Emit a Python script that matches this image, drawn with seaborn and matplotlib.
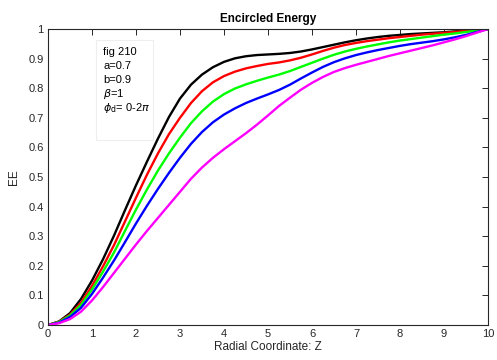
import numpy as np
import pandas as pd
import matplotlib
matplotlib.use("Agg")
import matplotlib.pyplot as plt
import seaborn as sns
from matplotlib.patches import Rectangle

z = [0, 0.25, 0.5, 0.75, 1, 1.25, 1.5, 1.75, 2, 2.25, 2.5, 2.75, 3, 3.25, 3.5, 3.75,
     4, 4.25, 4.5, 4.75, 5, 5.25, 5.5, 5.75, 6, 6.25, 6.5, 6.75, 7, 7.25, 7.5, 7.75,
     8, 8.25, 8.5, 8.75, 9, 9.25, 9.5, 9.75, 10]

ee_black = [0, 0.012, 0.04, 0.088, 0.15, 0.222, 0.302, 0.388, 0.472, 0.552, 0.63, 0.703,
            0.765, 0.812, 0.846, 0.871, 0.889, 0.901, 0.908, 0.912, 0.914, 0.916, 0.919,
            0.924, 0.931, 0.939, 0.947, 0.955, 0.962, 0.968, 0.973, 0.977, 0.98, 0.983,
            0.985, 0.987, 0.989, 0.992, 0.995, 0.997, 1.0]
ee_red = [0, 0.011, 0.035, 0.075, 0.132, 0.198, 0.27, 0.35, 0.43, 0.508, 0.58, 0.645,
          0.70, 0.75, 0.79, 0.82, 0.841, 0.856, 0.867, 0.875, 0.882, 0.887, 0.894, 0.903,
          0.914, 0.926, 0.937, 0.946, 0.953, 0.959, 0.964, 0.969, 0.973, 0.977, 0.981,
          0.984, 0.987, 0.99, 0.994, 0.997, 1.0]
ee_green = [0, 0.010, 0.032, 0.068, 0.12, 0.18, 0.245, 0.318, 0.39, 0.458, 0.522, 0.58,
            0.633, 0.682, 0.722, 0.755, 0.78, 0.799, 0.813, 0.825, 0.836, 0.846, 0.858,
            0.872, 0.886, 0.9, 0.913, 0.924, 0.933, 0.941, 0.948, 0.955, 0.961, 0.966,
            0.971, 0.976, 0.981, 0.985, 0.99, 0.995, 1.0]
ee_blue = [0, 0.008, 0.027, 0.058, 0.105, 0.16, 0.218, 0.28, 0.343, 0.403, 0.46, 0.514,
           0.565, 0.612, 0.652, 0.685, 0.711, 0.732, 0.75, 0.765, 0.779, 0.794, 0.812,
           0.833, 0.853, 0.872, 0.888, 0.901, 0.912, 0.921, 0.929, 0.936, 0.943, 0.949,
           0.954, 0.959, 0.965, 0.972, 0.98, 0.99, 1.0]
ee_magenta = [0, 0.006, 0.02, 0.045, 0.083, 0.128, 0.176, 0.224, 0.272, 0.318, 0.362, 0.406,
              0.45, 0.494, 0.532, 0.565, 0.594, 0.621, 0.648, 0.677, 0.708, 0.74, 0.768,
              0.795, 0.818, 0.838, 0.855, 0.868, 0.879, 0.889, 0.899, 0.909, 0.918, 0.927,
              0.936, 0.945, 0.955, 0.965, 0.976, 0.988, 1.0]

curve_names = ["k", "r", "g", "b", "m"]
curve_colors = ["#000000", "#ff0000", "#00ff00", "#0000ff", "#ff00ff"]
info_lines = ["fig 210", "a=0.7", "b=0.9", r"$\beta$=1", r"$\phi_{\rm d}$= 0-2$\pi$"]

rows = []
for name, vals in zip(curve_names, [ee_black, ee_red, ee_green, ee_blue, ee_magenta]):
    for zz, v in zip(z, vals):
        rows.append({"Z": zz, "EE": v, "curve": name})
df = pd.DataFrame(rows)

# ---- style ----
sns.set_theme(style="white")
plt.rcParams['font.family'] = ['Liberation Sans', 'DejaVu Sans']
plt.rcParams['mathtext.fontset'] = 'dejavusans'
dark = "#262626"

fig = plt.figure(figsize=(4.97, 3.60), dpi=100)
ax = fig.add_axes([48 / 497, 1 - 325 / 360, 440 / 497, 296 / 360])

sns.lineplot(data=df, x="Z", y="EE", hue="curve", hue_order=curve_names,
             palette=curve_colors, linewidth=1.7, legend=False, ax=ax)

ax.set_xlim(0, 10)
ax.set_ylim(0, 1)
ax.set_xticks(range(0, 11))
ax.set_yticks(np.round(np.arange(0, 1.01, 0.1), 1))
ax.set_yticklabels(["0", "0.1", "0.2", "0.3", "0.4", "0.5", "0.6", "0.7", "0.8", "0.9", "1"])
ax.tick_params(direction="in", length=4, width=0.7, top=True, right=True,
               labelsize=8, colors=dark, pad=3)
for s in ax.spines.values():
    s.set_color(dark)
    s.set_linewidth(0.8)

ax.set_title("Encircled Energy", fontsize=8.5, fontweight="bold", color="black", pad=5)
ax.set_xlabel("Radial Coordinate: Z", fontsize=8.5, color=dark, labelpad=1)
ax.set_ylabel("EE", fontsize=8.5, color=dark, labelpad=6)

# annotation box
ax.add_patch(Rectangle((0.109, 0.625), 0.13, 0.338, transform=ax.transAxes,
                       facecolor="white", edgecolor="#eeeeee", linewidth=0.8, zorder=3))
for i, line in enumerate(info_lines):
    ax.text(0.125, 0.922 - i * 0.0473, line, transform=ax.transAxes,
            fontsize=8, color="black", va="center", ha="left", zorder=4)

fig.savefig("out.png", dpi=100)
